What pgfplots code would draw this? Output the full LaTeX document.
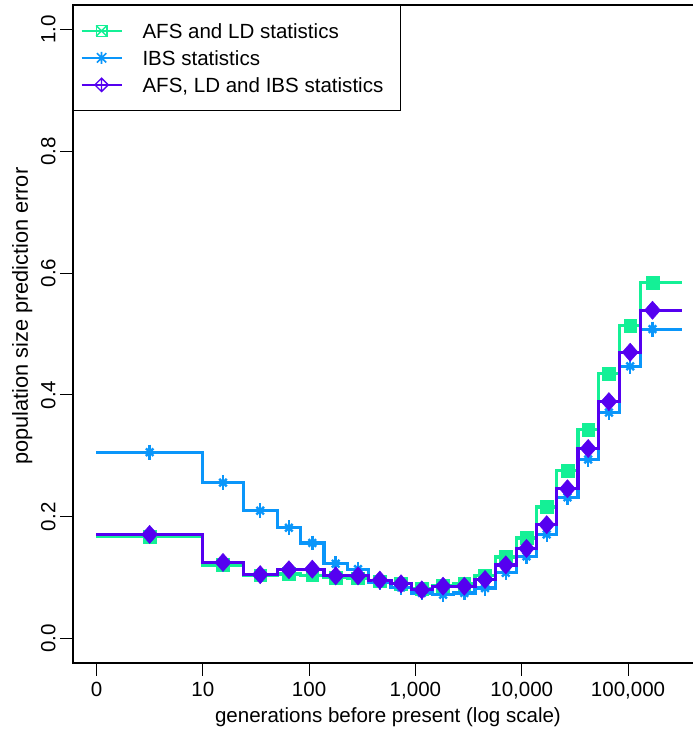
\documentclass[border=0pt]{standalone}
\usepackage{fontspec}
\setmainfont{Liberation Sans}
\usepackage{pgfplots}
\usepackage{pgfplotstable}
\pgfplotsset{compat=1.18}
\definecolor{cgreen}{RGB}{20,240,150}
\definecolor{cblue}{RGB}{10,150,250}
\definecolor{cpurple}{RGB}{85,0,240}

% b = start of time window (log10 generations), m = marker position
\pgfplotstableread{
b m g i p
0 0.5 0.167 0.306 0.171
1.0 1.19 0.121 0.256 0.125
1.38 1.54 0.104 0.210 0.105
1.70 1.81 0.106 0.182 0.113
1.92 2.03 0.104 0.157 0.114
2.14 2.25 0.100 0.123 0.103
2.36 2.46 0.099 0.114 0.103
2.56 2.665 0.094 0.092 0.096
2.77 2.865 0.090 0.084 0.090
2.96 3.06 0.082 0.075 0.080
3.16 3.26 0.087 0.072 0.086
3.36 3.46 0.090 0.075 0.086
3.56 3.655 0.104 0.083 0.097
3.75 3.85 0.134 0.108 0.121
3.95 4.045 0.165 0.135 0.148
4.14 4.235 0.216 0.171 0.187
4.33 4.43 0.276 0.232 0.246
4.53 4.625 0.343 0.294 0.312
4.72 4.82 0.435 0.371 0.389
4.92 5.02 0.514 0.447 0.470
5.12 5.23 0.584 0.508 0.539
5.505 nan 0.584 0.508 0.539
}\datatable

\begin{document}
\begin{tikzpicture}[font=\fontsize{15.4}{18}\selectfont]
\begin{axis}[
  at={(54.75pt,51pt)}, anchor=south west,
  scale only axis, width=465pt, height=493.5pt,
  xmin=-0.221, xmax=5.611, ymin=-0.04, ymax=1.04,
  axis line style={draw=none},
  clip=false,
  tick align=outside,
  major tick length=9.5pt,
  tick style={black, line width=0.8pt},
  xtick={0,1,2,3,4,5},
  xticklabels={0,10,100,{1,000},{10,000},{100,000}},
  xtick pos=bottom, ytick pos=left,
  ytick={0,0.2,0.4,0.6,0.8,1},
  yticklabels={0.0,0.2,0.4,0.6,0.8,1.0},
  xticklabel style={anchor=base, yshift=-16pt, inner sep=0pt},
  yticklabel style={xshift=-3.75pt, rotate=90, anchor=base, inner sep=0pt},
  every axis x label/.style={at={(axis description cs:0.508,0)}, anchor=base, yshift=-45pt},
  every axis y label/.style={at={(axis description cs:0,0.527)}, xshift=-33.75pt, rotate=90, anchor=base, font=\fontsize{16.3}{19}\selectfont},
  xlabel={generations before present (log scale)},
  ylabel={population size prediction error},
  legend style={at={(rel axis cs:0,1)}, anchor=north west, draw=black, line width=0.8pt,
    fill=white, inner xsep=5.25pt, inner ysep=12pt, row sep=6.25pt, column sep=15pt,
    font=\fontsize{15.4}{18}\selectfont,
    nodes={inner sep=0pt, text height=12.5pt, text depth=1.5pt}},
  legend cell align=left,
  after end axis/.code={\draw[line width=0.8pt] (rel axis cs:1,1) -- (rel axis cs:0,1) -- (rel axis cs:0,0) -- (rel axis cs:1,0);},
]
% legend samples
\addlegendimage{cgreen, legend image code/.code={
  \draw[cgreen, line width=1.5pt] (0pt,0pt) -- (30pt,0pt);
  \draw[cgreen, line width=1pt] (11pt,-4pt) rectangle (19pt,4pt);
  \draw[cgreen, line width=1pt] (11pt,-4pt) -- (19pt,4pt) (11pt,4pt) -- (19pt,-4pt);}}
\addlegendentry{AFS and LD statistics}
\addlegendimage{cblue, legend image code/.code={
  \draw[cblue, line width=1.5pt] (0pt,0pt) -- (30pt,0pt);
  \draw[cblue, line width=1.2pt] (15pt,-4.5pt) -- (15pt,4.5pt) (11.5pt,-3.5pt) -- (18.5pt,3.5pt) (11.5pt,3.5pt) -- (18.5pt,-3.5pt);}}
\addlegendentry{IBS statistics}
\addlegendimage{cpurple, legend image code/.code={
  \draw[cpurple, line width=1.5pt] (0pt,0pt) -- (30pt,0pt);
  \draw[cpurple, line width=1pt] (15pt,5pt) -- (20pt,0pt) -- (15pt,-5pt) -- (10pt,0pt) -- cycle (15pt,5pt) -- (15pt,-5pt);}}
\addlegendentry{AFS, LD and IBS statistics\hspace*{7.5pt}}

% step lines
\addplot[cgreen, line width=2.4pt, const plot, forget plot] table[x=b, y=g] {\datatable};
\addplot[only marks, mark=square*, mark size=4.8pt, cgreen, forget plot] table[x=m, y=g] {\datatable};
\addplot[cblue, line width=2.4pt, const plot, forget plot] table[x=b, y=i] {\datatable};
\addplot[only marks, mark=+, mark size=5.6pt, mark options={line width=1.8pt}, cblue, forget plot] table[x=m, y=i] {\datatable};
\addplot[only marks, mark=x, mark size=4pt, mark options={line width=1.8pt}, cblue, forget plot] table[x=m, y=i] {\datatable};
\addplot[cpurple, line width=2.4pt, const plot, forget plot] table[x=b, y=p] {\datatable};
\addplot[only marks, mark=diamond*, mark size=6.8pt, mark options={xscale=1.17}, cpurple, forget plot] table[x=m, y=p] {\datatable};
\end{axis}
\pgfresetboundingbox
\useasboundingbox (0,0) rectangle (519.75pt,548.25pt);
\end{tikzpicture}
\end{document}
